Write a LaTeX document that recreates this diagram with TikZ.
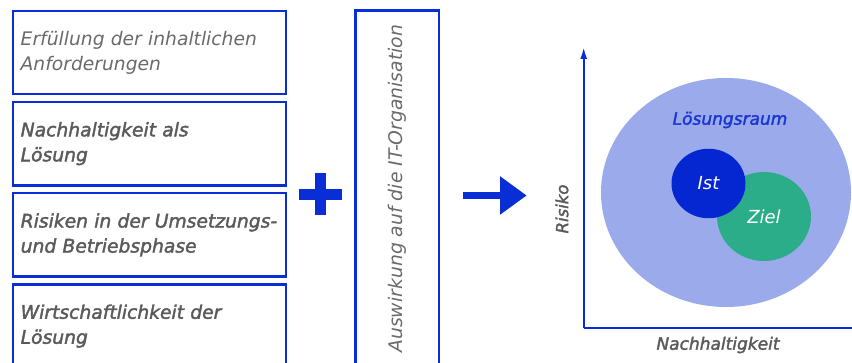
\documentclass[tikz,border=0pt]{standalone}
\usepackage{fontspec}
\setmainfont{DejaVu Sans}
\newfontfamily\medfont[FakeBold=2]{DejaVu Sans}
\usepackage{tikz}
\usetikzlibrary{positioning,arrows.meta,shapes.geometric}
\definecolor{frameblue}{HTML}{0A2ED6}
\definecolor{textgray}{HTML}{5A5A5A}
\definecolor{lightgray}{HTML}{6A6A6A}
\definecolor{spacefill}{HTML}{9AAAEB}
\definecolor{istfill}{HTML}{0527D2}
\definecolor{zielfill}{HTML}{2BAD89}
\definecolor{spacetext}{HTML}{1B37CF}

\begin{document}
\begin{tikzpicture}[x=1pt,y=1pt,
		factor/.style={draw=frameblue,line width=2.4pt,minimum width=273pt,minimum height=83.5pt,text width=258pt,inner xsep=7.5pt,align=left,text=textgray},
		plain/.style={text=lightgray,font=\fontsize{18.7}{25}\selectfont\itshape},
		medium/.style={font=\fontsize{18.7}{25}\selectfont\medfont\itshape},
		axis/.style={draw=frameblue,line width=2pt},
		bubble/.style={ellipse,inner sep=0pt,text=white,font=\fontsize{18}{20}\selectfont\itshape}]
		\useasboundingbox (0,0) rectangle (852,363);

		\node[factor,plain] (req) at (149.7,310.5) {Erfüllung der inhaltlichen\\Anforderungen};
		\node[factor,medium,below=5.3pt of req] (sust) {Nachhaltigkeit als\\Lösung};
		\node[factor,medium,below=5.3pt of sust] (risk) {Risiken in der Umsetzungs-\\und Betriebsphase};
		\node[factor,medium,below=5.3pt of risk] (econ) {Wirtschaftlichkeit der\\Lösung};

		\coordinate (plus) at (320.4,168.5);
		\draw[frameblue,line width=10.5pt] ([xshift=-21.5pt]plus) -- ([xshift=21.5pt]plus) ([yshift=-21pt]plus) -- ([yshift=21pt]plus);

		\node[factor,plain,rotate=90,minimum width=356.5pt,minimum height=83.3pt,text width=,align=center,font=\fontsize{18.8}{25}\selectfont\itshape] (impact) at (397.2,174.3) {Auswirkung auf die IT-Organisation};

		\coordinate (arrowS) at (462.7,167.5);
		\coordinate (arrowE) at (526.7,167.5);
		\draw[frameblue,line width=7.7pt,-{Triangle[length=26.7pt,width=36.7pt]}] (arrowS) -- (arrowE);

		\coordinate (origin) at (583.7,35.3);
		\coordinate (ytop) at (583.7,316);
		\coordinate (xend) at (866,35.3);
		\draw[axis,-{Latex[length=12pt,width=7pt]}] (origin) -- (ytop);
		\draw[axis,-{Latex[length=12pt,width=7pt]}] (origin) -- (xend);

		\node[ellipse,fill=spacefill,minimum width=250pt,minimum height=229pt,inner sep=0pt] (space) at (726,170.5) {};
		\node[text=spacetext,font=\fontsize{17}{20}\selectfont\medfont\itshape] (spacelabel) at (730,243) {Lösungsraum};
		\node[bubble,fill=zielfill,minimum width=94pt,minimum height=89pt] (ziel) at (764,146.5) {Ziel};
		\node[bubble,fill=istfill,minimum width=74pt,minimum height=69.5pt] (ist) at (708.5,179.5) {Ist};

		\node[text=textgray,font=\fontsize{16.5}{20}\selectfont\medfont\itshape,rotate=90] (riskaxis) at (562,154) {Risiko};
		\node[text=textgray,font=\fontsize{17}{20}\selectfont\medfont\itshape] (sustaxis) at (718,18) {Nachhaltigkeit};
	\end{tikzpicture}
\end{document}
